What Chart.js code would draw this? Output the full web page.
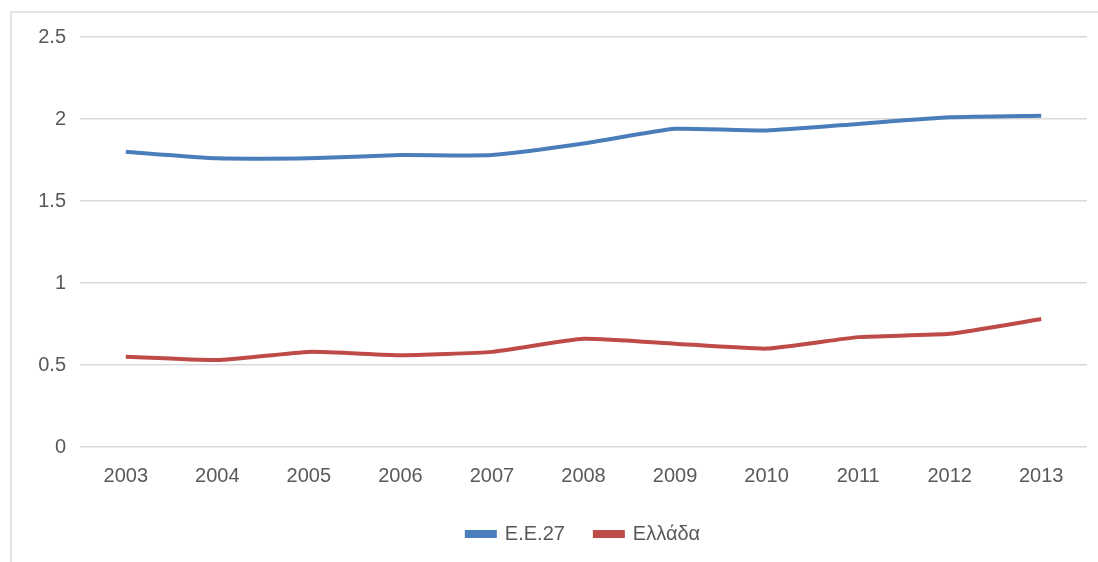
<!DOCTYPE html>
<html>
<head>
<meta charset="utf-8">
<script src="https://cdn.jsdelivr.net/npm/chart.js@4.4.0/dist/chart.umd.min.js"></script>
<style>
    html, body { margin: 0; padding: 0; background: #fff; overflow: hidden; }
    #frame {
        position: absolute; left: 10px; top: 11px; width: 1200px; height: 600px;
        border-top: 2px solid #e3e3e3; border-left: 2px solid #e3e3e3;
    }
    #wrap { position: absolute; left: 0; top: 0; width: 1098px; height: 562px; }
</style>
</head>
<body>
<div id="frame"></div>
<div id="wrap"><canvas id="lineChart" width="1098" height="562"></canvas></div>
<script>
// Datos
const years = ['2003', '2004', '2005', '2006', '2007', '2008', '2009', '2010', '2011', '2012', '2013'];
const eu27 = [1.80, 1.76, 1.76, 1.78, 1.78, 1.85, 1.94, 1.93, 1.97, 2.01, 2.02];
const greece = [0.55, 0.53, 0.58, 0.56, 0.58, 0.66, 0.63, 0.60, 0.67, 0.69, 0.78];
const yTicks = [0, 0.5, 1, 1.5, 2, 2.5];

const textColor = '#595959';
const gridColor = '#d9d9d9';

Chart.defaults.font.family = '"Liberation Sans", Arial, sans-serif';
Chart.defaults.font.size = 20;
Chart.defaults.color = textColor;

const ctx = document.getElementById('lineChart').getContext('2d');
new Chart(ctx, {
    type: 'line',
    data: {
        labels: years,
        datasets: [
            { label: 'E.E.27', data: eu27, borderColor: '#4a7ebb', backgroundColor: '#4a7ebb' },
            { label: 'Ελλάδα', data: greece, borderColor: '#be4b48', backgroundColor: '#be4b48' },
        ].map(ds => ({
            ...ds,
            borderWidth: 4,
            pointRadius: 0,
            tension: 0.15,
            fill: false,
        })),
    },
    options: {
        responsive: false,
        animation: false,
        layout: { padding: { top: 37, right: 11, left: 0, bottom: 8 } },
        scales: {
            x: {
                offset: true,
                grid: { display: false },
                border: { display: false },
                ticks: { padding: 9, maxRotation: 0 },
                afterFit: scale => { scale.height = 47; },
            },
            y: {
                min: 0,
                max: 2.5,
                afterBuildTicks: scale => { scale.ticks = yTicks.map(v => ({ value: v })); },
                grid: { color: gridColor, lineWidth: 1.5, drawTicks: false },
                border: { display: false },
                ticks: { padding: 14, callback: v => String(v) },
                afterFit: scale => { scale.width = 80; },
            },
        },
        plugins: {
            legend: {
                position: 'bottom',
                fullSize: false, // centrada sobre el área del gráfico
                labels: { boxWidth: 28, boxHeight: 4, padding: 30, color: textColor },
            },
            tooltip: { enabled: false },
        },
    },
});
</script>
</body>
</html>
